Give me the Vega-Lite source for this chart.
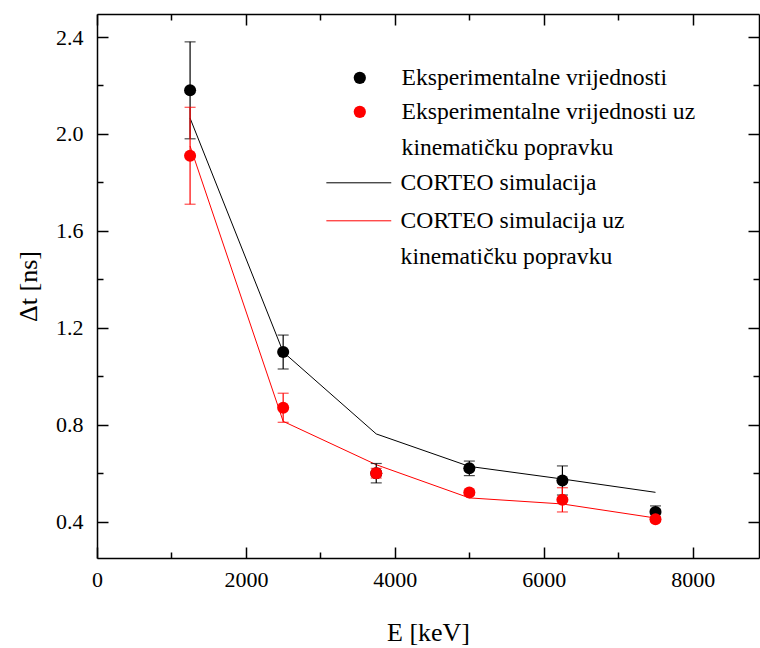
{
  "$schema": "https://vega.github.io/schema/vega-lite/v6.json",
  "width": 662,
  "height": 544,
  "autosize": {"type": "none"},
  "padding": {"left": 97, "top": 14, "right": 1, "bottom": 90},
  "background": "white",
  "data": {
    "values": [
      {"E": 1250, "series": "Eksperimentalne vrijednosti", "kind": "exp", "dt": 2.18, "lo": 1.98, "hi": 2.38},
      {"E": 2500, "series": "Eksperimentalne vrijednosti", "kind": "exp", "dt": 1.10, "lo": 1.03, "hi": 1.17},
      {"E": 3750, "series": "Eksperimentalne vrijednosti", "kind": "exp", "dt": 0.60, "lo": 0.56, "hi": 0.64},
      {"E": 5000, "series": "Eksperimentalne vrijednosti", "kind": "exp", "dt": 0.62, "lo": 0.59, "hi": 0.65},
      {"E": 6250, "series": "Eksperimentalne vrijednosti", "kind": "exp", "dt": 0.57, "lo": 0.51, "hi": 0.63},
      {"E": 7500, "series": "Eksperimentalne vrijednosti", "kind": "exp", "dt": 0.44, "lo": 0.415, "hi": 0.465},
      {"E": 1250, "series": "Eksperimentalne vrijednosti uz kinematičku popravku", "kind": "expk", "dt": 1.91, "lo": 1.71, "hi": 2.11},
      {"E": 2500, "series": "Eksperimentalne vrijednosti uz kinematičku popravku", "kind": "expk", "dt": 0.87, "lo": 0.81, "hi": 0.93},
      {"E": 3750, "series": "Eksperimentalne vrijednosti uz kinematičku popravku", "kind": "expk", "dt": 0.60, "lo": 0.58, "hi": 0.62},
      {"E": 5000, "series": "Eksperimentalne vrijednosti uz kinematičku popravku", "kind": "expk", "dt": 0.52, "lo": 0.51, "hi": 0.53},
      {"E": 6250, "series": "Eksperimentalne vrijednosti uz kinematičku popravku", "kind": "expk", "dt": 0.49, "lo": 0.44, "hi": 0.54},
      {"E": 7500, "series": "Eksperimentalne vrijednosti uz kinematičku popravku", "kind": "expk", "dt": 0.41, "lo": 0.40, "hi": 0.42},
      {"E": 1250, "series": "CORTEO simulacija", "kind": "sim", "dt": 2.065},
      {"E": 2500, "series": "CORTEO simulacija", "kind": "sim", "dt": 1.10},
      {"E": 3750, "series": "CORTEO simulacija", "kind": "sim", "dt": 0.762},
      {"E": 5000, "series": "CORTEO simulacija", "kind": "sim", "dt": 0.628},
      {"E": 6250, "series": "CORTEO simulacija", "kind": "sim", "dt": 0.576},
      {"E": 7500, "series": "CORTEO simulacija", "kind": "sim", "dt": 0.521},
      {"E": 1250, "series": "CORTEO simulacija uz kinematičku popravku", "kind": "sim", "dt": 1.95},
      {"E": 2500, "series": "CORTEO simulacija uz kinematičku popravku", "kind": "sim", "dt": 0.814},
      {"E": 3750, "series": "CORTEO simulacija uz kinematičku popravku", "kind": "sim", "dt": 0.635},
      {"E": 5000, "series": "CORTEO simulacija uz kinematičku popravku", "kind": "sim", "dt": 0.498},
      {"E": 6250, "series": "CORTEO simulacija uz kinematičku popravku", "kind": "sim", "dt": 0.473},
      {"E": 7500, "series": "CORTEO simulacija uz kinematičku popravku", "kind": "sim", "dt": 0.415}
    ]
  },
  "resolve": {"axis": {"x": "independent", "y": "independent"}},
  "layer": [
    {
      "transform": [{"filter": "datum.kind == 'sim'"}],
      "mark": {"type": "line", "strokeWidth": 1},
      "encoding": {
        "x": {"field": "E", "type": "quantitative", "scale": {"domain": [0, 8890], "nice": false, "zero": false},
          "axis": {"orient": "bottom", "values": [0, 2000, 4000, 6000, 8000], "format": "d", "tickSize": -11, "labelPadding": 22, "labelFlush": false, "labelOverlap": false, "title": "E [keV]", "titlePadding": 29}},
        "y": {"field": "dt", "type": "quantitative", "scale": {"domain": [0.25, 2.495], "nice": false, "zero": false},
          "axis": {"orient": "left", "values": [0.4, 0.8, 1.2, 1.6, 2.0, 2.4], "format": ".1f", "tickSize": -11, "labelPadding": 25, "labelFlush": false, "labelOverlap": false, "title": "Δt [ns]", "titlePadding": 14}},
        "stroke": {"field": "series", "type": "nominal",
          "scale": {"domain": ["CORTEO simulacija", "CORTEO simulacija uz kinematičku popravku"], "range": ["#000000", "#ff0000"]},
          "legend": {
            "title": null, "orient": "none", "legendX": 250, "legendY": 157, "padding": 0,
            "symbolType": "M-5.3,0H5.3", "symbolSize": 150, "symbolStrokeWidth": 1,
            "labelOffset": 30, "rowPadding": 13, "labelBaseline": "alphabetic",
            "labelFont": "Liberation Serif", "labelFontSize": 23.6, "labelColor": "black", "labelLimit": 800,
            "labelExpr": "split(replace(datum.label, ' uz ', ' uz|'), '|')",
            "encode": {"labels": {"update": {"dy": {"value": 7}, "lineHeight": {"value": 36}}}}
          }}
      }
    },
    {
      "transform": [{"filter": "datum.kind == 'exp'"}],
      "mark": {"type": "errorbar", "color": "black", "ticks": {"size": 11, "thickness": 1.2}, "rule": {"strokeWidth": 1.2}},
      "encoding": {
        "x": {"field": "E", "type": "quantitative", "scale": {"domain": [0, 8890], "nice": false, "zero": false},
          "axis": {"orient": "top", "values": [0, 2000, 4000, 6000, 8000], "tickSize": -11, "labels": false, "title": null}},
        "y": {"field": "lo", "type": "quantitative", "scale": {"domain": [0.25, 2.495], "nice": false, "zero": false},
          "axis": {"orient": "right", "values": [0.4, 0.8, 1.2, 1.6, 2.0, 2.4], "tickSize": -11, "labels": false, "title": null}},
        "y2": {"field": "hi"}
      }
    },
    {
      "transform": [{"filter": "datum.kind == 'expk'"}],
      "mark": {"type": "errorbar", "color": "#ff0000", "ticks": {"size": 11, "thickness": 1.2}, "rule": {"strokeWidth": 1.2}},
      "encoding": {
        "x": {"field": "E", "type": "quantitative", "scale": {"domain": [0, 8890], "nice": false, "zero": false},
          "axis": {"orient": "bottom", "values": [1000, 3000, 5000, 7000], "tickSize": -6, "labels": false, "domain": false, "title": null}},
        "y": {"field": "lo", "type": "quantitative", "scale": {"domain": [0.25, 2.495], "nice": false, "zero": false},
          "axis": {"orient": "left", "values": [0.6, 1.0, 1.4, 1.8, 2.2], "tickSize": -6, "labels": false, "domain": false, "title": null}},
        "y2": {"field": "hi"}
      }
    },
    {
      "transform": [{"filter": "datum.kind != 'sim'"}],
      "mark": {"type": "point", "filled": true, "opacity": 1, "size": 145, "shape": "circle"},
      "encoding": {
        "x": {"field": "E", "type": "quantitative", "scale": {"domain": [0, 8890], "nice": false, "zero": false},
          "axis": {"orient": "top", "values": [1000, 3000, 5000, 7000], "tickSize": -6, "labels": false, "domain": false, "title": null}},
        "y": {"field": "dt", "type": "quantitative", "scale": {"domain": [0.25, 2.495], "nice": false, "zero": false},
          "axis": {"orient": "right", "values": [0.6, 1.0, 1.4, 1.8, 2.2], "tickSize": -6, "labels": false, "domain": false, "title": null}},
        "fill": {"field": "series", "type": "nominal",
          "scale": {"domain": ["Eksperimentalne vrijednosti", "Eksperimentalne vrijednosti uz kinematičku popravku"], "range": ["#000000", "#ff0000"]},
          "legend": {
            "title": null, "orient": "none", "legendX": 251, "legendY": 52, "padding": 0,
            "symbolType": "circle", "symbolSize": 150, "symbolStrokeWidth": 0, "symbolOpacity": 1,
            "labelOffset": 30, "rowPadding": 9, "labelBaseline": "alphabetic",
            "labelFont": "Liberation Serif", "labelFontSize": 23.6, "labelColor": "black", "labelLimit": 800,
            "labelExpr": "split(replace(datum.label, ' uz ', ' uz|'), '|')",
            "encode": {"labels": {"update": {"dy": {"value": 7}, "lineHeight": {"value": 36}}}}
          }}
      }
    }
  ],
  "config": {
    "view": {"stroke": null},
    "axis": {
      "grid": false,
      "domainColor": "black", "domainWidth": 1.5,
      "tickColor": "black", "tickWidth": 1.5,
      "labelFont": "Liberation Serif", "labelFontSize": 22, "labelColor": "black",
      "titleFont": "Liberation Serif", "titleFontSize": 26, "titleFontWeight": "normal", "titleColor": "black"
    }
  }
}
